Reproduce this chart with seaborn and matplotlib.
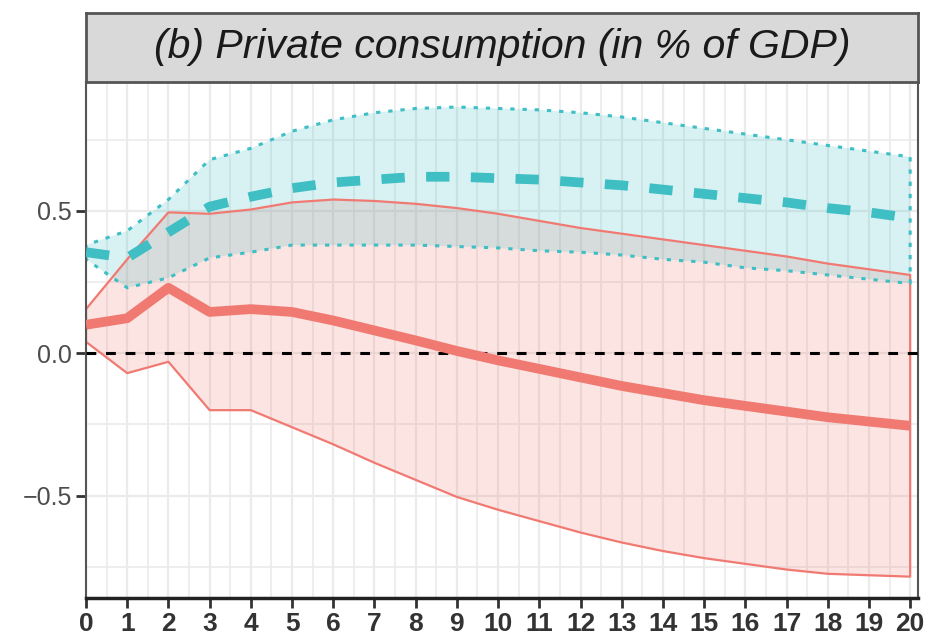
import numpy as np
import pandas as pd
import matplotlib
matplotlib.use("Agg")
import matplotlib.pyplot as plt
import seaborn as sns

# =====================================
# DATA
# =====================================

horizon = list(range(21))

red_mean = [0.10, 0.123, 0.23, 0.145, 0.155, 0.145, 0.115, 0.08, 0.045, 0.008,
            -0.025, -0.055, -0.085, -0.115, -0.14, -0.165, -0.185, -0.205,
            -0.225, -0.24, -0.255]
red_upper = [0.155, 0.33, 0.495, 0.49, 0.505, 0.53, 0.54, 0.535, 0.525, 0.51,
             0.49, 0.465, 0.44, 0.42, 0.40, 0.38, 0.36, 0.34, 0.315, 0.295,
             0.275]
red_lower = [0.04, -0.07, -0.03, -0.20, -0.20, -0.26, -0.32, -0.385, -0.445,
             -0.505, -0.55, -0.59, -0.63, -0.665, -0.695, -0.72, -0.74, -0.76,
             -0.775, -0.78, -0.785]

teal_mean = [0.355, 0.335, 0.425, 0.515, 0.55, 0.58, 0.60, 0.61, 0.62, 0.62,
             0.615, 0.61, 0.60, 0.59, 0.575, 0.56, 0.545, 0.53, 0.51, 0.495,
             0.475]
teal_upper = [0.38, 0.43, 0.54, 0.68, 0.72, 0.78, 0.82, 0.845, 0.86, 0.865,
              0.86, 0.855, 0.845, 0.83, 0.81, 0.79, 0.77, 0.75, 0.73, 0.71,
              0.69]
teal_lower = [0.33, 0.23, 0.265, 0.335, 0.355, 0.38, 0.38, 0.38, 0.38, 0.375,
              0.37, 0.36, 0.355, 0.345, 0.33, 0.32, 0.30, 0.29, 0.275, 0.26,
              0.245]

title = "(b) Private consumption (in % of GDP)"
y_ticks = [-0.5, 0.0, 0.5]
y_labels = ["\u22120.5", "0.0", "0.5"]

RED = "#F07A72"
TEAL = "#3FBFC4"

# =====================================
# PLOT
# =====================================

sns.set_theme(style="white")
plt.rcParams["font.family"] = ["Liberation Sans", "DejaVu Sans"]

df = pd.DataFrame({
    "h": horizon,
    "red": red_mean,
    "teal": teal_mean,
})

fig = plt.figure(figsize=(9.26, 6.41), dpi=100)
ax = fig.add_axes([86 / 926, 1 - 598 / 641, (918 - 86) / 926, (598 - 82) / 641])

# grid
ax.set_xticks(np.arange(0, 21, 1))
ax.set_xticks(np.arange(0.5, 20.5, 1), minor=True)
ax.set_yticks(y_ticks)
ax.set_yticks([-0.75, -0.25, 0.25, 0.75], minor=True)
ax.grid(True, which="major", color="#EBEBEB", linewidth=1.6, zorder=0)
ax.grid(True, which="minor", color="#EBEBEB", linewidth=1.2, zorder=0)
ax.set_axisbelow(True)

# bands
ax.fill_between(horizon, red_lower, red_upper, facecolor=RED, alpha=0.2,
                edgecolor="none", zorder=1)
ax.fill_between(horizon, red_lower, red_upper, facecolor="none",
                edgecolor=RED, linewidth=1.6, zorder=2)
ax.fill_between(horizon, teal_lower, teal_upper, facecolor=TEAL, alpha=0.2,
                edgecolor="none", zorder=1)
ax.fill_between(horizon, teal_lower, teal_upper, facecolor="none",
                edgecolor=TEAL, linewidth=2.2, linestyle=(0, (1.4, 2.6)),
                zorder=2)

# zero line
ax.axhline(0, color="black", linewidth=2.2, dashes=(3.2, 3.2), zorder=3)

# means
sns.lineplot(data=df, x="h", y="red", ax=ax, color=RED, linewidth=7,
             zorder=4, solid_capstyle="butt")
sns.lineplot(data=df, x="h", y="teal", ax=ax, color=TEAL, linewidth=7,
             dashes=False, zorder=4)
ax.lines[-1].set_dashes((2.4, 2.2))
ax.lines[-1].set_dash_capstyle("butt")

ax.set_xlim(0, 20.19)
ax.set_ylim(-0.86, 0.953)
ax.set_xlabel("")
ax.set_ylabel("")

ax.set_yticklabels(y_labels, fontsize=18, color="#4D4D4D")
ax.set_xticklabels([str(h) for h in horizon], fontsize=19,
                   fontweight="bold", color="#333333")
ax.tick_params(axis="both", which="major", length=7, width=2,
               color="#333333", pad=3, bottom=True, left=True)
ax.tick_params(axis="both", which="minor", length=0)

for side in ["top", "right"]:
    ax.spines[side].set_color("#555555")
    ax.spines[side].set_linewidth(1.5)
ax.spines["left"].set_color("#555555")
ax.spines["left"].set_linewidth(1.5)
ax.spines["bottom"].set_color("#222222")
ax.spines["bottom"].set_linewidth(2.5)

# strip
strip = fig.add_axes([86 / 926, 1 - 82 / 641, (918 - 86) / 926, (82 - 13) / 641])
strip.set_facecolor("#D9D9D9")
strip.set_xticks([])
strip.set_yticks([])
for s in strip.spines.values():
    s.set_color("#555555")
    s.set_linewidth(2)
strip.text(0.5, 0.5, title, ha="center", va="center", fontsize=29.5,
           style="italic", color="#1A1A1A", transform=strip.transAxes)

fig.savefig("out.png", dpi=100)
